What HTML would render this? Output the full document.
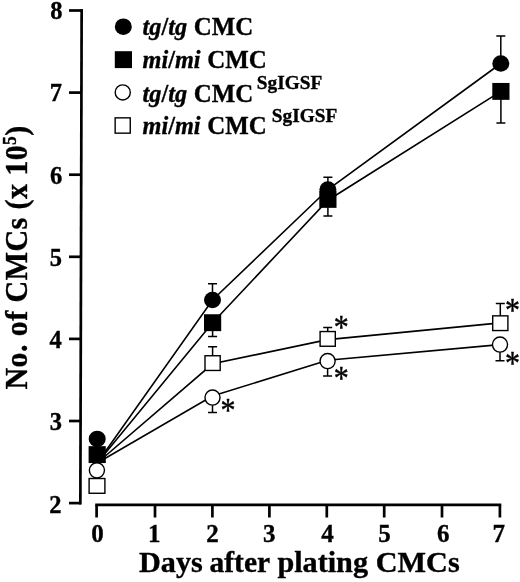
<!DOCTYPE html>
<html><head><meta charset="utf-8"><title>chart</title>
<style>
html,body{margin:0;padding:0;background:#fff;}
svg{display:block;}
text{font-family:"Liberation Serif","DejaVu Serif",serif;font-weight:bold;fill:#000;stroke:#000;stroke-width:0.35px;}
.ax{stroke:#000;stroke-width:2.7;fill:none;stroke-linecap:butt;}
.ln{stroke:#000;stroke-width:1.6;fill:none;}
.eb{stroke:#000;stroke-width:1.5;fill:none;}
.fm{fill:#000;stroke:none;}
.om{fill:#fff;stroke:#000;stroke-width:1.4;}
.tk{font-size:24.5px;}
.lg{font-size:24.3px;}
.it{font-style:italic;}
.sup{font-size:19.3px;}
.star{font-size:30px;font-weight:normal;stroke-width:0.4px;}
</style></head><body>
<svg width="520" height="582" viewBox="0 0 520 582">
<rect width="520" height="582" fill="#fff"/>

<path class="ax" d="M81.65 9.15L80.35 504.45"/>
<path class="ax" d="M69 503.1H80.95"/>
<text class="tk" x="61.4" y="512.8000000000001" text-anchor="end">2</text>
<path class="ax" d="M69 421.0H81.17"/>
<text class="tk" x="62.1" y="429.8" text-anchor="end">3</text>
<path class="ax" d="M69 338.90000000000003H81.38"/>
<text class="tk" x="61.8" y="347.70000000000005" text-anchor="end">4</text>
<path class="ax" d="M69 256.80000000000007H81.60"/>
<text class="tk" x="62.1" y="265.6000000000001" text-anchor="end">5</text>
<path class="ax" d="M69 174.70000000000005H81.81"/>
<text class="tk" x="62.3" y="183.50000000000006" text-anchor="end">6</text>
<path class="ax" d="M69 92.60000000000002H82.03"/>
<text class="tk" x="62.0" y="101.40000000000002" text-anchor="end">7</text>
<path class="ax" d="M69 10.500000000000057H83.00"/>
<text class="tk" x="62.4" y="19.300000000000058" text-anchor="end">8</text>
<path class="ax" d="M95.25 504.8H501.25"/>
<path class="ax" d="M96.6 504.8V517.5"/>
<text class="tk" x="97.5" y="541.8" text-anchor="middle" style="font-size:25px">0</text>
<path class="ax" d="M155 504.8V517.5"/>
<text class="tk" x="154.3" y="541.8" text-anchor="middle" style="font-size:25px">1</text>
<path class="ax" d="M212.4 504.8V517.5"/>
<text class="tk" x="212.4" y="541.8" text-anchor="middle" style="font-size:25px">2</text>
<path class="ax" d="M269.4 504.8V517.5"/>
<text class="tk" x="269.2" y="541.8" text-anchor="middle" style="font-size:25px">3</text>
<path class="ax" d="M326.8 504.8V517.5"/>
<text class="tk" x="327.6" y="541.8" text-anchor="middle" style="font-size:25px">4</text>
<path class="ax" d="M384.2 504.8V517.5"/>
<text class="tk" x="384.6" y="541.8" text-anchor="middle" style="font-size:25px">5</text>
<path class="ax" d="M442 504.8V517.5"/>
<text class="tk" x="443.2" y="541.8" text-anchor="middle" style="font-size:25px">6</text>
<path class="ax" d="M499.9 504.8V517.5"/>
<text class="tk" x="498.8" y="541.8" text-anchor="middle" style="font-size:25px">7</text>
<text y="572.3" style="font-size:30.2px"><tspan x="139">Days</tspan> <tspan x="209.5" style="font-size:29.5px">after</tspan> <tspan x="277.4">plating</tspan> <tspan x="375.8">CMCs</tspan></text>
<text transform="translate(26.6,389.6) rotate(-90) scale(1 1.06)" style="font-size:30px;letter-spacing:0.43px">No. of CMCs (x 10<tspan dy="-9.9" style="font-size:17.5px">5</tspan><tspan dy="9.9">)</tspan></text>
<path class="ln" d="M97.2 463L212.5 300.0L327.9 189.5L500.8 63.5"/>
<path class="ln" d="M97.2 463L212.6 322.7L327.9 200.2L500.9 91.4"/>
<path class="ln" d="M97.2 463L212.6 363.8L327.7 339.6L500.3 322.9"/>
<path class="ln" d="M97.2 463L212.5 396.1L327.6 360.2L500 344.6"/>
<path class="eb" d="M212.5 300.0V283.8M208.0 283.8H217.0"/>
<path class="eb" d="M212.6 322.7V336.6M208.1 336.6H217.1"/>
<path class="eb" d="M212.6 362.8V346.8M208.1 346.8H217.1"/>
<path class="eb" d="M212.5 397.6V412.5M208.0 412.5H217.0"/>
<path class="eb" d="M327.9 189.5V177.3M323.4 177.3H332.4"/>
<path class="eb" d="M327.9 199.4V216M323.4 216H332.4"/>
<path class="eb" d="M327.7 338.6V327.4M323.2 327.4H332.2"/>
<path class="eb" d="M327.6 360.6V376M323.1 376H332.1"/>
<path class="eb" d="M500.8 63.5V35.9M496.3 35.9H505.3"/>
<path class="eb" d="M500.9 91.4V122.9M496.4 122.9H505.4"/>
<path class="eb" d="M500.3 322.9V303.6M495.8 303.6H504.8"/>
<path class="eb" d="M500 344.6V360.8M495.5 360.8H504.5"/>
<ellipse class="fm" cx="212.5" cy="300.0" rx="8.5" ry="8.25"/>
<ellipse class="fm" cx="327.9" cy="189.5" rx="8.5" ry="8.25"/>
<ellipse class="fm" cx="500.8" cy="63.5" rx="8.5" ry="8.25"/>
<rect class="fm" x="204.0" y="314.25" width="17.2" height="16.9"/>
<rect class="fm" x="319.29999999999995" y="190.95000000000002" width="17.2" height="16.9"/>
<rect class="fm" x="492.29999999999995" y="82.95" width="17.2" height="16.9"/>
<rect class="om" x="205.0" y="355.75" width="15.2" height="14.7"/>
<rect class="om" x="320.09999999999997" y="331.55" width="15.2" height="14.7"/>
<rect class="om" x="492.7" y="315.84999999999997" width="15.2" height="14.7"/>
<ellipse class="om" cx="212.5" cy="397.6" rx="7.55" ry="7.55"/>
<ellipse class="om" cx="327.6" cy="361.1" rx="7.55" ry="7.55"/>
<ellipse class="om" cx="500" cy="344.6" rx="7.55" ry="7.55"/>
<rect class="om" x="89.1" y="478.525" width="15.8" height="14.75"/>
<ellipse class="om" cx="96.9" cy="470.3" rx="7.55" ry="7.55"/>
<rect class="fm" x="88.60000000000001" y="446.15000000000003" width="17.2" height="16.9"/>
<ellipse class="fm" cx="97.2" cy="438.9" rx="8.5" ry="8.25"/>
<text class="star" transform="translate(228.1 406.4) scale(1 1.14)" y="13.2" text-anchor="middle">*</text>
<text class="star" transform="translate(341.2 322.5) scale(1 1.14)" y="13.2" text-anchor="middle">*</text>
<text class="star" transform="translate(341.2 373.7) scale(1 1.14)" y="13.2" text-anchor="middle">*</text>
<text class="star" transform="translate(512.6 305.8) scale(1 1.14)" y="13.2" text-anchor="middle">*</text>
<text class="star" transform="translate(512.6 359.4) scale(1 1.14)" y="13.2" text-anchor="middle">*</text>
<ellipse class="fm" cx="123.3" cy="26.7" rx="8.5" ry="8.25"/>
<text class="lg" x="142.5" y="35.1"><tspan class="it">tg</tspan>/<tspan class="it">tg</tspan><tspan style="font-size:24.9px" dx="0.4"> CMC</tspan></text>
<rect class="fm" x="114.80000000000001" y="51.2" width="17.2" height="16.9"/>
<text class="lg" x="142.5" y="67.8"><tspan class="it">mi</tspan>/<tspan class="it">mi</tspan><tspan style="font-size:24.9px" dx="0.4"> CMC</tspan></text>
<ellipse class="om" cx="122.75" cy="92.45" rx="7.55" ry="7.55"/>
<text class="lg" x="142.5" y="101.5"><tspan class="it">tg</tspan>/<tspan class="it">tg</tspan><tspan style="font-size:24.9px" dx="0.4"> CMC</tspan></text>
<text class="sup" x="256.8" y="88.6">SgIGSF</text>
<rect class="om" x="115.15" y="117.85" width="15.1" height="15.3"/>
<text class="lg" x="142.5" y="134.1"><tspan class="it">mi</tspan>/<tspan class="it">mi</tspan><tspan style="font-size:24.9px" dx="0.4"> CMC</tspan></text>
<text class="sup" x="271.8" y="121.7">SgIGSF</text>
</svg></body></html>
